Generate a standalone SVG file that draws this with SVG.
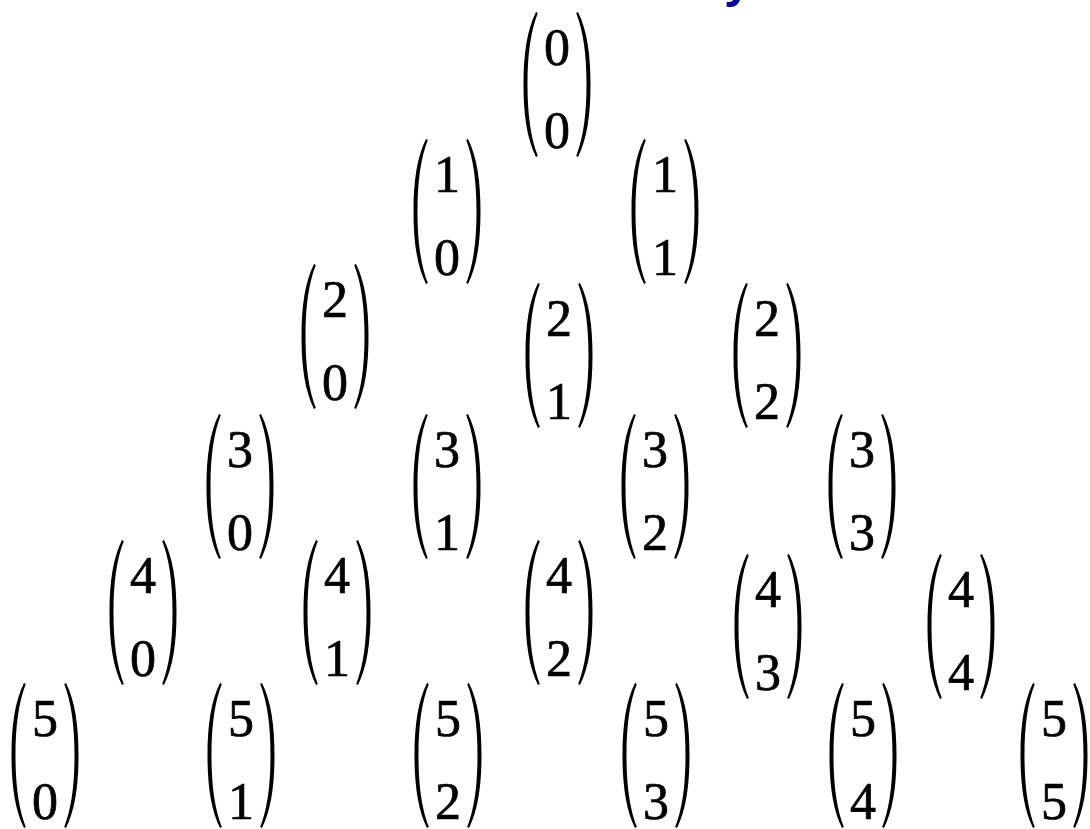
<svg xmlns="http://www.w3.org/2000/svg" xmlns:xlink="http://www.w3.org/1999/xlink" width="1090" height="829" viewBox="0 0 1090 829">
<style>
.d{font-family:'Liberation Serif','Times New Roman',serif;font-size:52px;fill:#000;stroke:#000;stroke-width:0.7px;text-anchor:middle}
.t{font-family:'Liberation Sans',Arial,sans-serif;font-size:50px;font-weight:bold;fill:#0a0a9a}
</style>
<defs>
<path id="lp" d="M13,0 C4,18 0.5,42 0.5,72.5 C0.5,103 4,127 13,145 L14.8,144 C7.8,126 4.5,103 4.5,72.5 C4.5,42 7.8,19 14.8,1 Z" fill="#000"/>
<g id="bin">
<use xlink:href="#lp" x="-34"/>
<use xlink:href="#lp" transform="translate(34,0) scale(-1,1)"/>
</g>
</defs>
<rect width="1090" height="829" fill="#fff"/>
<text class="t" x="724" y="-3">y</text>
<g id="connectors"/>
<g id="b00" transform="translate(557,12)"><use xlink:href="#bin"/><text class="d" x="0" y="53">0</text><text class="d" x="0" y="136">0</text></g>
<g id="b10" transform="translate(447,139)"><use xlink:href="#bin"/><text class="d" x="0" y="53">1</text><text class="d" x="0" y="136">0</text></g>
<g id="b11" transform="translate(665,139)"><use xlink:href="#bin"/><text class="d" x="0" y="53">1</text><text class="d" x="0" y="136">1</text></g>
<g id="b20" transform="translate(335,264)"><use xlink:href="#bin"/><text class="d" x="0" y="53">2</text><text class="d" x="0" y="136">0</text></g>
<g id="b21" transform="translate(559,283)"><use xlink:href="#bin"/><text class="d" x="0" y="53">2</text><text class="d" x="0" y="136">1</text></g>
<g id="b22" transform="translate(767,283)"><use xlink:href="#bin"/><text class="d" x="0" y="53">2</text><text class="d" x="0" y="136">2</text></g>
<g id="b30" transform="translate(240,414)"><use xlink:href="#bin"/><text class="d" x="0" y="53">3</text><text class="d" x="0" y="136">0</text></g>
<g id="b31" transform="translate(447,414)"><use xlink:href="#bin"/><text class="d" x="0" y="53">3</text><text class="d" x="0" y="136">1</text></g>
<g id="b32" transform="translate(655,414)"><use xlink:href="#bin"/><text class="d" x="0" y="53">3</text><text class="d" x="0" y="136">2</text></g>
<g id="b33" transform="translate(862,414)"><use xlink:href="#bin"/><text class="d" x="0" y="53">3</text><text class="d" x="0" y="136">3</text></g>
<g id="b40" transform="translate(143,540)"><use xlink:href="#bin"/><text class="d" x="0" y="53">4</text><text class="d" x="0" y="136">0</text></g>
<g id="b41" transform="translate(337,540)"><use xlink:href="#bin"/><text class="d" x="0" y="53">4</text><text class="d" x="0" y="136">1</text></g>
<g id="b42" transform="translate(559,540)"><use xlink:href="#bin"/><text class="d" x="0" y="53">4</text><text class="d" x="0" y="136">2</text></g>
<g id="b43" transform="translate(768,554)"><use xlink:href="#bin"/><text class="d" x="0" y="53">4</text><text class="d" x="0" y="136">3</text></g>
<g id="b44" transform="translate(961,554)"><use xlink:href="#bin"/><text class="d" x="0" y="53">4</text><text class="d" x="0" y="136">4</text></g>
<g id="b50" transform="translate(45,683)"><use xlink:href="#bin"/><text class="d" x="0" y="53">5</text><text class="d" x="0" y="136">0</text></g>
<g id="b51" transform="translate(241,683)"><use xlink:href="#bin"/><text class="d" x="0" y="53">5</text><text class="d" x="0" y="136">1</text></g>
<g id="b52" transform="translate(448,683)"><use xlink:href="#bin"/><text class="d" x="0" y="53">5</text><text class="d" x="0" y="136">2</text></g>
<g id="b53" transform="translate(656,683)"><use xlink:href="#bin"/><text class="d" x="0" y="53">5</text><text class="d" x="0" y="136">3</text></g>
<g id="b54" transform="translate(863,683)"><use xlink:href="#bin"/><text class="d" x="0" y="53">5</text><text class="d" x="0" y="136">4</text></g>
<g id="b55" transform="translate(1054,683)"><use xlink:href="#bin"/><text class="d" x="0" y="53">5</text><text class="d" x="0" y="136">5</text></g>
</svg>
